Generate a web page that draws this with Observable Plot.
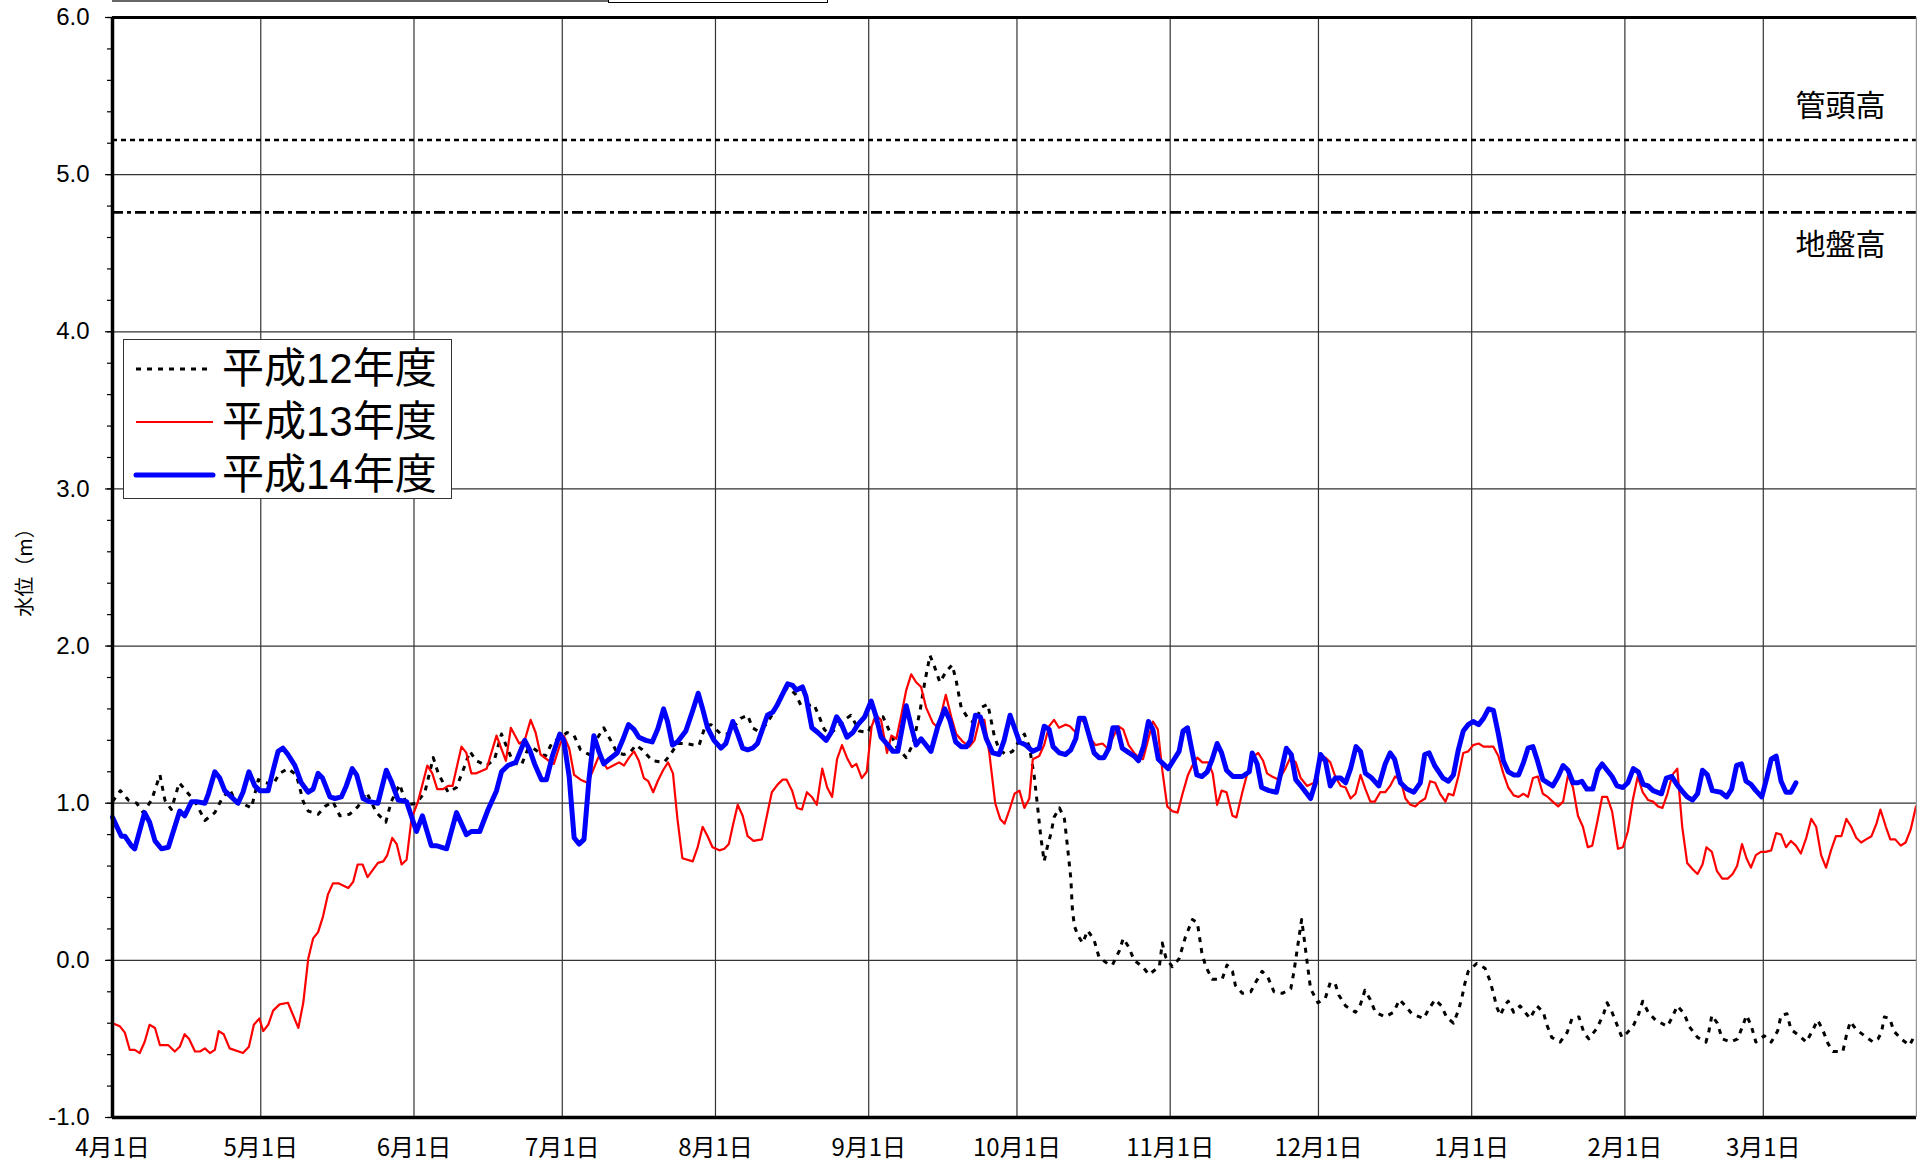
<!DOCTYPE html>
<html><head><meta charset="utf-8">
<script src="https://cdn.jsdelivr.net/npm/d3@7"></script>
<script src="https://cdn.jsdelivr.net/npm/@observablehq/plot@0.6"></script>
<style>
body{margin:0;background:#fff;}
#wrap{position:relative;width:1917px;height:1165px;overflow:hidden;background:#fff;}
#wrap svg{position:absolute;left:0;top:0;}
.legend{position:absolute;left:123px;top:339px;width:327px;height:158px;border:1.5px solid #333;background:#fff;}
.lrow{position:absolute;left:0;height:52px;display:flex;align-items:center;}
.lrow span{font-family:"Liberation Sans","Noto Sans CJK JP",sans-serif;font-size:42px;color:#000;margin-left:6px;line-height:1;}
.topbar{position:absolute;left:112px;top:0;width:496px;height:2px;background:#666;}
.topbox{position:absolute;left:608px;top:-2px;width:218px;height:3px;border:1px solid #000;background:#fff;}
</style></head><body><div id="wrap"><div class="topbar"></div><div class="topbox"></div></div>
<script>
// axis ticks (day offset from 4月1日)
const monthStarts = [0, 30, 61, 91, 122, 153, 183, 214, 244, 275, 306, 334];
const monthLabels = ["4月1日","5月1日","6月1日","7月1日","8月1日","9月1日","10月1日","11月1日","12月1日","1月1日","2月1日","3月1日"];
const yTicks = [-1, 0, 1, 2, 3, 4, 5, 6];
const refLevels = [5.22, 4.76];
const refNames = ["管頭高", "地盤高"];
const seriesNames = ["平成12年度", "平成13年度", "平成14年度"];
const yLabel = "水位（m）";

// 平成12年度
const h12Days = [0,1.6,3.2,4.9,6.2,7.9,9.6,10.6,11.9,13.5,15.1,16.7,18.7,20.7,22,23.7,25.1,26.8,28.1,29.5,31,32.5,33.8,35.5,37.2,38.6,39.6,41.6,43,44.6,46,48,49.7,51.4,53.4,55.3,56.4,58.1,59.5,61.5,63.2,64.9,65.9,67.9,69.6,71.3,72.3,73.6,75.7,77.3,78.7,80,81.1,82.7,84.1,85.1,86.5,
87.6,89,90.3,92,93.4,94.7,96.4,97.8,99.4,100.8,102.1,103.5,104.9,105.9,107.2,109.2,111.6,112.9,114.3,116,117.7,118.7,119.9,121.1,122.1,123.1,124.4,125.8,127.1,128.5,129.5,130.5,132.2,133.6,135,136.6,138.3,139.3,140.6,141.9,143,144,145,146.7,148.1,149.4,151.1,152.8,154.5,155.9,156.9,158.6,160.6,162,163.4,164.4,165.4,166.3,167.4,168.7,169.9,170.7,171.7,173.1,174.4,175.8,177.1,
178.4,179.4,180.8,182.1,183.1,184.5,185.5,186.5,187.2,187.8,188.5,189.2,189.9,190.5,191.6,192.6,193.2,193.9,194.2,194.6,195.3,196.3,197.3,198.6,199.6,201.3,202.3,203.7,204.5,205.7,206.7,208.4,209.7,211.8,212.4,213.1,214.4,215.8,217.1,218.5,219.5,220.4,221.2,222.5,224.5,225.5,226.6,227.2,228.6,230.3,231.3,232.6,233.8,235,236.7,238.4,239,239.7,240.6,241.1,241.7,242.4,243.9,245.4,246.4,247.4,248.1,249.5,251.5,252.5,253.4,254.5,255.5,257.5,259.2,260.4,261.6,262.9,265.3,266.3,267.6,
268.9,269.9,271.3,272.3,273,273.6,274.3,276,277.7,278.7,279.4,280.1,280.8,281.8,282.4,283.5,284.8,285.8,286.8,288.2,289.5,290.2,291.2,292.9,294.3,295.3,296.7,297.7,298.7,300.4,301.7,302.4,303.4,304.4,305.4,306.5,307.8,308.8,309.6,310.7,312.2,314.6,315.6,316.6,318,319,320.7,322.4,323,323.6,324.7,325.7,327.4,328.8,329.8,330.6,331.5,332.5,334.2,335.6,336.9,337.6,338.8,339.6,341.3,342.7,343.9,345,346,347.1,348.1,350.1,350.8,351.6,352.8,354.5,356.2,357.2,357.9,358.5,359.6,360.4,361.9,363.6,364.6];
const h12Vals = [1.01,1.08,1.02,1.0,0.94,1.02,1.18,1.02,0.96,1.13,1.07,1.01,0.89,0.94,1.02,1.09,1.0,0.99,0.97,1.15,1.13,1.12,1.19,1.22,1.18,1.01,0.95,0.93,0.98,1.01,0.92,0.93,0.98,1.07,0.94,0.88,1.01,1.12,0.99,1.0,1.07,1.29,1.19,1.07,1.1,1.24,1.33,1.27,1.24,1.28,1.44,1.34,1.26,1.24,1.35,1.35,1.32,
1.3,1.39,1.41,1.45,1.43,1.34,1.31,1.4,1.48,1.4,1.32,1.31,1.33,1.37,1.34,1.27,1.26,1.31,1.38,1.38,1.37,1.37,1.49,1.5,1.47,1.44,1.44,1.49,1.54,1.56,1.48,1.46,1.5,1.57,1.66,1.74,1.69,1.62,1.62,1.63,1.55,1.47,1.44,1.48,1.53,1.56,1.46,1.45,1.55,1.55,1.48,1.36,1.29,1.38,1.59,1.78,1.94,1.87,1.77,1.84,1.88,1.78,1.61,1.54,1.51,1.61,1.63,
1.43,1.34,1.31,1.33,1.38,1.44,1.36,1.17,0.97,0.79,0.63,0.73,0.81,0.91,0.97,0.9,0.73,0.52,0.33,0.22,0.16,0.11,0.19,0.13,0.02,-0.02,-0.03,0.06,0.14,0.08,0.0,-0.04,-0.09,-0.04,0.11,0.02,-0.04,0.01,0.15,0.26,0.24,0.05,-0.04,-0.12,-0.12,-0.03,-0.07,-0.16,-0.21,-0.2,-0.14,-0.07,-0.11,-0.2,-0.21,-0.18,-0.08,0.07,0.26,0.14,-0.01,-0.18,-0.27,-0.24,-0.14,-0.15,-0.22,-0.29,-0.33,-0.28,-0.19,-0.25,-0.33,-0.36,-0.33,-0.25,-0.29,-0.34,-0.37,-0.31,-0.25,
-0.29,-0.36,-0.4,-0.32,-0.24,-0.15,-0.07,-0.02,-0.05,-0.13,-0.21,-0.3,-0.35,-0.28,-0.26,-0.33,-0.29,-0.33,-0.37,-0.29,-0.33,-0.41,-0.49,-0.52,-0.46,-0.37,-0.36,-0.46,-0.5,-0.43,-0.34,-0.27,-0.33,-0.41,-0.49,-0.46,-0.41,-0.34,-0.26,-0.33,-0.38,-0.42,-0.36,-0.29,-0.34,-0.42,-0.49,-0.52,-0.45,-0.35,-0.4,-0.5,-0.52,-0.5,-0.42,-0.35,-0.41,-0.52,-0.48,-0.52,-0.45,-0.35,-0.34,-0.44,-0.48,-0.52,-0.45,-0.38,-0.44,-0.53,-0.58,-0.58,-0.48,-0.39,-0.44,-0.48,-0.52,-0.5,-0.46,-0.36,-0.37,-0.45,-0.5,-0.54,-0.48];

// 平成13年度
const h13Days = [0,1.5,2.5,3.5,4.5,5.5,6.5,7.5,8.6,9.6,11.3,12.6,13.6,14.6,15.5,16.7,17.7,18.7,19.7,20.7,21.5,22.5,23.7,26.4,27.6,28.6,29.7,30.5,31.5,32.5,33.8,35.5,37.6,38.6,39.6,40.6,41.6,42.6,43.6,44.6,45.7,47.7,48.7,49.6,50.6,51.6,53.7,54.8,55.6,56.6,57.5,58.5,59.5,60.5,61.8,62.8,63.7,64.7,65.7,66.9,67.9,68.8,70.6,71.6,72.6,73.6,75.7,77.7,79.6,80.6,82.3,83.4,84.6,85.6,86.6,
88.3,89.3,90.5,91.3,92.4,93.4,94.7,96.1,97.1,98.4,100.1,101.3,102.5,103.5,104.5,105.5,106.5,107.5,108.4,109.4,110.3,111.4,112.4,113.4,114.3,115.3,117.4,118.4,119.4,120.4,121.4,122.8,123.8,124.7,125.6,126.5,127.5,128.5,129.7,131.4,132.4,133.4,134.6,135.6,136.4,137.5,138.5,139.5,140.5,141.5,142.5,143.6,144.6,145.6,146.6,147.6,148.6,149.6,150.5,151.6,152.6,153.6,154.5,155.5,156.7,157.6,158.6,159.6,160.6,161.6,162.6,163.6,164.6,166,167,168.6,169.7,170.7,172.1,173.4,174.4,175.4,176.4,
177.4,178.6,179.6,180.5,181.5,182.5,183.5,184.5,185.5,186.2,187.5,188.5,189.5,190.5,191.5,192.8,193.7,194.9,195.9,196.9,197.9,198.9,200.3,201.3,202.3,203.5,204.5,205.6,206.7,207.7,208.5,209.5,210.5,211.5,212.4,213.4,214.4,215.5,216.5,217.6,218.5,219.5,220.5,221.7,222.6,223.5,224.4,225.4,226.6,227.4,228.6,229.6,230.6,231.8,232.8,233.6,234.6,236,237.3,238.3,239.4,240.4,241.7,243.1,244.1,245.4,246.4,247.4,248.5,249.5,250.5,251.5,252.5,253.5,254.5,255.4,256.5,257.5,258.5,259.5,260.6,261.6,262.6,263.6,264.6,265.6,266.6,267.6,268.6,269.7,
270.3,271.3,272.3,273.3,274.3,275.3,276.4,277.4,279.4,280.4,281.4,282.4,283.5,284.5,285.5,286.4,287.4,288.4,289.4,290.4,291.4,292.5,293.5,294.5,295.5,296.5,297.5,298.5,299.4,300.4,301.4,302.4,303.4,304.6,305.6,306.6,307.6,308.6,309.6,310.7,311.7,312.7,313.6,314.6,315.6,316.6,317.6,318.6,319.7,320.7,321.7,322.5,323.6,324.6,325.7,326.8,327.8,328.7,329.7,330.6,331.5,332.5,333.5,334.5,335.6,336.6,337.6,338.6,339.6,340.6,341.6,342.7,343.7,344.7,345.7,346.7,347.7,348.7,349.8,350.8,351.8,352.8,353.8,354.8,355.9,356.9,357.7,358.8,359.7,360.7,361.8,362.8,363.8,364.9];
const h13Vals = [-0.4,-0.42,-0.46,-0.57,-0.57,-0.59,-0.52,-0.41,-0.43,-0.54,-0.54,-0.58,-0.55,-0.47,-0.5,-0.58,-0.58,-0.56,-0.59,-0.57,-0.45,-0.47,-0.56,-0.59,-0.55,-0.41,-0.37,-0.45,-0.41,-0.32,-0.28,-0.27,-0.43,-0.27,0.01,0.14,0.18,0.28,0.42,0.49,0.49,0.46,0.5,0.61,0.61,0.53,0.62,0.63,0.67,0.78,0.74,0.61,0.64,0.9,1.01,1.13,1.24,1.19,1.09,1.09,1.11,1.11,1.36,1.32,1.19,1.19,1.22,1.43,1.27,1.48,1.38,1.4,1.53,1.45,1.31,
1.27,1.25,1.37,1.43,1.35,1.18,1.15,1.13,1.2,1.3,1.22,1.24,1.26,1.24,1.29,1.33,1.27,1.16,1.14,1.07,1.14,1.21,1.26,1.19,0.9,0.65,0.63,0.72,0.85,0.79,0.72,0.7,0.71,0.74,0.87,0.99,0.92,0.79,0.76,0.77,0.92,1.07,1.12,1.15,1.15,1.08,0.97,0.96,1.07,1.04,0.99,1.22,1.1,1.04,1.28,1.37,1.29,1.23,1.25,1.16,1.2,1.49,1.56,1.53,1.32,1.43,1.41,1.56,1.72,1.82,1.77,1.74,1.61,1.51,1.48,1.69,1.55,1.44,1.39,1.36,1.4,1.53,1.53,
1.32,1.0,0.9,0.87,0.96,1.06,1.08,0.97,1.03,1.28,1.3,1.37,1.49,1.53,1.48,1.5,1.49,1.45,1.53,1.51,1.41,1.37,1.38,1.35,1.41,1.49,1.47,1.37,1.32,1.29,1.28,1.4,1.52,1.47,1.21,0.98,0.95,0.94,1.06,1.18,1.24,1.29,1.26,1.26,1.19,0.99,1.08,1.07,0.92,0.91,1.07,1.19,1.29,1.32,1.27,1.19,1.17,1.15,1.22,1.29,1.26,1.16,1.11,1.13,1.26,1.29,1.26,1.17,1.11,1.1,1.03,1.06,1.18,1.09,1.01,1.01,1.07,1.07,1.11,1.17,1.15,1.03,0.99,0.98,1.01,1.03,1.14,1.13,1.06,1.01,
1.06,1.05,1.17,1.32,1.33,1.37,1.38,1.36,1.36,1.3,1.19,1.1,1.05,1.04,1.06,1.04,1.16,1.17,1.06,1.04,1.01,0.98,1.01,1.18,1.1,0.92,0.85,0.72,0.73,0.88,1.04,1.04,0.95,0.71,0.72,0.82,1.02,1.17,1.07,1.02,1.01,0.98,0.97,1.06,1.18,1.22,0.85,0.62,0.58,0.55,0.61,0.72,0.69,0.57,0.52,0.52,0.55,0.6,0.74,0.65,0.59,0.67,0.69,0.69,0.7,0.81,0.8,0.72,0.76,0.73,0.68,0.78,0.9,0.85,0.67,0.59,0.7,0.79,0.79,0.9,0.85,0.78,0.75,0.77,0.79,0.87,0.96,0.85,0.77,0.77,0.73,0.75,0.83,0.98];

// 平成14年度
const h14Days = [0,1.8,2.5,3.8,4.5,6.5,7.5,8.6,9.9,11.3,13.6,14.6,16,17,18.7,19.4,20.7,21.7,22.7,25.4,26.4,27.6,28.8,29.8,31.5,32.5,33.5,34.5,35.5,36.9,38.2,39.6,40.6,41.6,42.5,44,45,46.3,47.3,48.5,49.4,50.7,52,53.7,55.4,56.4,57.8,59.5,61.5,62.7,64.5,65.5,67.6,69.6,71.6,72.6,74.3,76,77.7,78.7,80,81.6,83.4,84.4,85.4,86.8,87.8,
89,90.5,91.3,92.4,93.4,94.4,95.4,96.4,97.4,98.4,99.4,100.5,102.1,103.2,104.4,105.5,106.5,107.9,109.2,110.3,111.5,112.3,113.3,114.3,116,117.4,118.5,119.4,120.4,121.7,123.1,124.1,125.5,126.5,127.5,128.5,129.5,130.5,131.5,132.5,133.6,134.4,135.5,136.6,137.6,138.4,139.6,140.3,141.5,142.7,144.4,145.4,146.5,147.4,148.6,149.8,150.8,152.2,153.5,154.5,155.5,156.9,157.9,158.9,160.6,161.6,162.6,163.6,165.6,167,168.4,169.4,170.6,171.7,172.8,173.6,174.6,175.6,176.8,
178.1,179.4,180.4,181.6,182.5,183.5,184.8,186.2,187.5,188.5,189.5,190.3,191.6,192.8,193.9,194.9,195.6,196.6,197.6,198.6,199.6,200.6,201.6,202.4,203.3,204.3,205.7,206.7,207.6,208.6,209.6,210.5,211.6,212.6,213.6,214.8,215.8,216.6,217.5,218.5,219.4,220.4,221.5,222.5,223.5,224.4,225.4,226.7,228.6,230,230.6,231.6,232.5,234,235.5,236.5,237.5,238.5,239.4,240.7,242.4,243.4,244.4,245.4,246.4,247.4,248.5,249.5,250.5,251.6,252.5,253.5,254.8,256.2,257.5,258.5,259.4,260.6,261.9,263.3,264.6,265.5,266.4,267.5,
269.2,270.3,271.3,272.3,273.3,274.3,275.3,276.4,277.4,278.4,279.4,280.4,281.4,282.4,283.5,284.5,285.5,286.4,287.4,288.4,289.4,290.4,291.4,292.5,293.5,294.5,295.5,296.5,297.3,298.3,299.5,300.5,301.4,302.4,303.4,304.4,305.6,306.6,307.7,308.7,309.7,310.7,311.7,313.4,314.4,315.5,316.5,317.5,318.6,319.7,320.7,321.7,322.7,323.7,325.4,326.6,327.6,328.6,329.6,330.5,331.5,332.5,333.7,334.7,335.6,336.6,337.6,338.6,339.6,340.6];
const h14Vals = [0.91,0.79,0.79,0.73,0.71,0.94,0.88,0.76,0.71,0.72,0.95,0.92,1.01,1.01,1.0,1.06,1.2,1.16,1.08,1.0,1.07,1.2,1.11,1.08,1.08,1.21,1.33,1.35,1.31,1.24,1.13,1.07,1.09,1.19,1.16,1.04,1.03,1.04,1.11,1.22,1.18,1.03,1.01,1.0,1.21,1.14,1.02,1.01,0.82,0.92,0.73,0.73,0.71,0.94,0.8,0.82,0.82,0.96,1.08,1.2,1.24,1.26,1.4,1.34,1.25,1.15,1.15,
1.3,1.44,1.4,1.17,0.78,0.74,0.77,1.15,1.43,1.33,1.25,1.28,1.32,1.4,1.5,1.47,1.42,1.4,1.39,1.47,1.6,1.52,1.37,1.39,1.46,1.59,1.7,1.6,1.48,1.4,1.35,1.38,1.52,1.44,1.35,1.34,1.35,1.38,1.47,1.56,1.58,1.62,1.69,1.76,1.75,1.72,1.74,1.68,1.48,1.45,1.4,1.45,1.55,1.51,1.42,1.45,1.5,1.55,1.65,1.55,1.42,1.37,1.33,1.33,1.62,1.49,1.37,1.41,1.33,1.49,1.6,1.53,1.39,1.36,1.36,1.4,1.56,1.55,1.41,
1.32,1.31,1.4,1.56,1.48,1.39,1.37,1.33,1.35,1.49,1.47,1.36,1.32,1.31,1.34,1.41,1.54,1.54,1.43,1.32,1.29,1.29,1.35,1.48,1.48,1.35,1.32,1.3,1.27,1.36,1.52,1.47,1.28,1.25,1.22,1.28,1.33,1.46,1.48,1.32,1.18,1.17,1.2,1.28,1.38,1.32,1.21,1.17,1.17,1.2,1.32,1.25,1.1,1.08,1.07,1.21,1.35,1.31,1.15,1.1,1.03,1.13,1.31,1.27,1.11,1.16,1.16,1.13,1.22,1.36,1.33,1.19,1.16,1.11,1.25,1.32,1.28,1.13,1.09,1.07,1.13,1.31,1.32,1.24,
1.16,1.14,1.18,1.34,1.46,1.5,1.52,1.5,1.54,1.6,1.59,1.44,1.27,1.2,1.18,1.18,1.26,1.35,1.36,1.26,1.15,1.13,1.11,1.17,1.24,1.21,1.13,1.13,1.14,1.09,1.09,1.21,1.25,1.21,1.17,1.11,1.1,1.13,1.22,1.2,1.12,1.11,1.08,1.06,1.16,1.17,1.12,1.08,1.04,1.02,1.06,1.21,1.18,1.08,1.07,1.04,1.09,1.24,1.25,1.14,1.12,1.08,1.04,1.16,1.28,1.3,1.14,1.07,1.07,1.13];

const toRows = (name, days, vals) => days.map((d, i) => ({series: name, day: d, value: vals[i]}));
const rows12 = toRows(seriesNames[0], h12Days, h12Vals);
const rows13 = toRows(seriesNames[1], h13Days, h13Vals);
const rows14 = toRows(seriesNames[2], h14Days, h14Vals);

const minorTicks = d3.range(-1, 6.0001, 0.2).map(v => Math.round(v * 10) / 10);
const numFont = "'Liberation Sans Narrow','Liberation Sans','Noto Sans CJK JP',sans-serif";
const cjkFont = "'Noto Sans CJK JP','Liberation Sans',sans-serif";

const styles = [
  {stroke: "#000", strokeWidth: 3, strokeDasharray: "5,6", strokeLinecap: "butt"},
  {stroke: "#ff0000", strokeWidth: 2.2},
  {stroke: "#0000ff", strokeWidth: 5, strokeLinejoin: "round", strokeLinecap: "round"}
];

const plot = Plot.plot({
  width: 1917, height: 1165,
  marginTop: 17, marginBottom: 48, marginLeft: 112, marginRight: 1,
  x: {domain: [0, 365]},
  y: {domain: [-1, 6]},
  style: {fontFamily: numFont, background: "transparent", color: "#000"},
  marks: [
    Plot.gridX(monthStarts, {stroke: "#333", strokeOpacity: 1, strokeWidth: 1.2}),
    Plot.gridY(yTicks, {stroke: "#333", strokeOpacity: 1, strokeWidth: 1.2}),
    Plot.ruleY([refLevels[0]], {stroke: "#000", strokeWidth: 2.6, strokeDasharray: "5,4"}),
    Plot.ruleY([refLevels[1]], {stroke: "#000", strokeWidth: 2.6, strokeDasharray: "11,4,4,4"}),
    Plot.text([refNames[0]], {y: [refLevels[0]], text: d => d, frameAnchor: "right", dx: -76, dy: -34, textAnchor: "middle", fontSize: 30, fontFamily: cjkFont, fill: "#000"}),
    Plot.text([refNames[1]], {y: [refLevels[1]], text: d => d, frameAnchor: "right", dx: -76, dy: 33, textAnchor: "middle", fontSize: 30, fontFamily: cjkFont, fill: "#000"}),
    Plot.line(rows12, {x: "day", y: "value", ...styles[0]}),
    Plot.line(rows13, {x: "day", y: "value", ...styles[1]}),
    Plot.line(rows14, {x: "day", y: "value", ...styles[2]}),
    Plot.axisY(minorTicks, {tickSize: 5, tickFormat: () => "", label: null, strokeWidth: 1.2}),
    Plot.axisY(yTicks, {tickSize: 7, tickPadding: 16, tickFormat: d => d.toFixed(1), fontSize: 24, label: null, strokeWidth: 1.2}),
    Plot.axisX(monthStarts, {tickSize: 0, tickPadding: 21, tickFormat: d => monthLabels[monthStarts.indexOf(d)], fontSize: 24, fontFamily: cjkFont, label: null}),
    Plot.text([yLabel], {text: d => d, frameAnchor: "left", textAnchor: "middle", dx: -87, rotate: -90, fontSize: 20, fontFamily: cjkFont, fill: "#000"}),
    Plot.ruleX([0], {stroke: "#000", strokeWidth: 3.5}),
    Plot.ruleY([-1], {stroke: "#000", strokeWidth: 3.5}),
    Plot.ruleY([6], {stroke: "#000", strokeWidth: 3}),
    Plot.ruleX([365], {stroke: "#999", strokeWidth: 1.5})
  ]
});
const wrap = document.getElementById("wrap");
wrap.insertBefore(plot, wrap.firstChild);

// legend
const legend = document.createElement("div");
legend.className = "legend";
const rowTops = [3, 56, 109];
seriesNames.forEach((name, i) => {
  const row = document.createElement("div");
  row.className = "lrow";
  row.style.top = rowTops[i] + "px";
  const s = styles[i];
  row.innerHTML = `<svg width="92" height="52" style="position:static;"><line x1="12" x2="89" y1="26" y2="26" stroke="${s.stroke}" stroke-width="${s.strokeWidth}" ${s.strokeDasharray ? `stroke-dasharray="${s.strokeDasharray}"` : ""} stroke-linecap="${s.strokeLinecap || "butt"}"/></svg><span>${name}</span>`;
  legend.appendChild(row);
});
wrap.appendChild(legend);
</script>
</body></html>
